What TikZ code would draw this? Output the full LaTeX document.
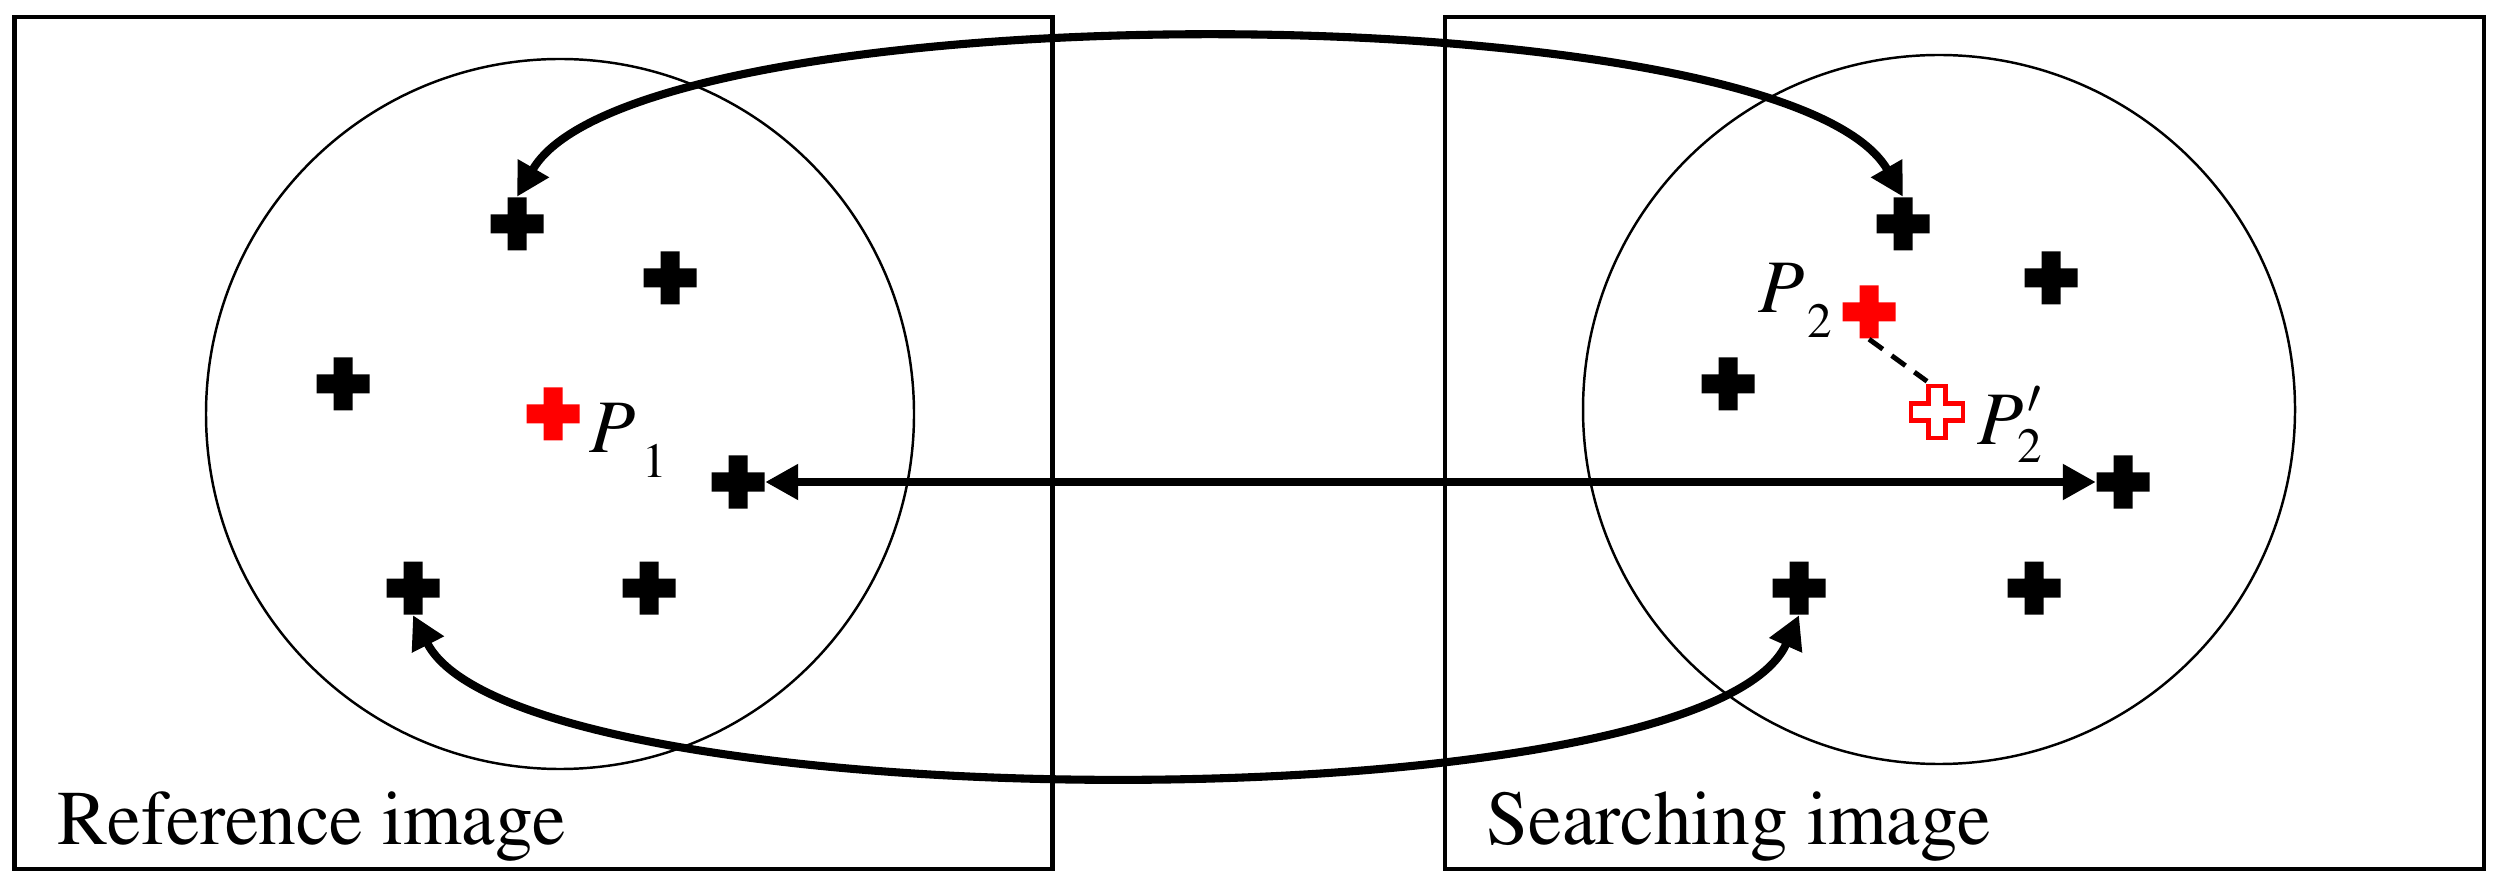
\documentclass[tikz,border=0pt]{standalone}
\usepackage[T1]{fontenc}
\usepackage{mathptmx}
\usepackage{tikz}
\usetikzlibrary{arrows.meta}

\tikzset{
  keypt/.style={minimum size=0.53cm, inner sep=0pt, path picture={
    \fill[#1] (path picture bounding box.center) ++(-0.095,0.265) -- ++(0.19,0) -- ++(0,-0.17) -- ++(0.17,0) -- ++(0,-0.19) -- ++(-0.17,0) -- ++(0,-0.17) -- ++(-0.19,0) -- ++(0,0.17) -- ++(-0.17,0) -- ++(0,0.19) -- ++(0.17,0) -- cycle;}},
  keypt/.default=black,
  movedpt/.style={minimum size=0.6cm, inner sep=0pt, path picture={
    \draw[red, line width=1.4pt, fill=white] (path picture bounding box.center) ++(-0.085,0.26) -- ++(0.17,0) -- ++(0,-0.175) -- ++(0.175,0) -- ++(0,-0.17) -- ++(-0.175,0) -- ++(0,-0.175) -- ++(-0.17,0) -- ++(0,0.175) -- ++(-0.175,0) -- ++(0,0.17) -- ++(0.175,0) -- cycle;}},
  link/.style={line width=2.3pt, {Triangle[length=0.33cm,width=0.34cm]}-{Triangle[length=0.33cm,width=0.34cm]}},
  caption/.style={anchor=base west, inner sep=0pt, font=\fontsize{22}{24}\selectfont},
  ptlabel/.style={anchor=base west, inner sep=0pt, font=\fontsize{21.5}{24}\selectfont},
}

\begin{document}
\begin{tikzpicture}
\useasboundingbox (0,0) rectangle (24.98,8.86);

% the two images
\draw[line width=1.36pt] (0.145,0.17) rectangle (10.525,8.69);
\draw[line width=1.36pt] (14.45,0.17) rectangle (24.84,8.69);
\draw[line width=0.7pt] (5.60,4.72) ellipse (3.54 and 3.55);
\draw[line width=0.7pt] (19.39,4.765) ellipse (3.56 and 3.545);

\node[caption] (reftxt) at (0.57,0.42) {\scalebox{0.975}[1]{Reference image}};
\node[caption] (searchtxt) at (14.86,0.42) {\scalebox{0.975}[1]{Searching image}};

% reference image points
\node[keypt] (ra) at (5.17,6.62) {};
\node[keypt] (rb) at (6.70,6.08) {};
\node[keypt] (rc) at (3.43,5.02) {};
\node[keypt=red] (P1) at (5.53,4.72) {};
\node[keypt] (rd) at (7.38,4.04) {};
\node[keypt] (re) at (4.13,2.98) {};
\node[keypt] (rf) at (6.49,2.98) {};

% searching image points
\node[keypt] (sa) at (19.03,6.62) {};
\node[keypt] (sb) at (20.51,6.08) {};
\node[keypt] (sc) at (17.28,5.02) {};
\node[keypt=red] (P2) at (18.69,5.74) {};
\node[movedpt] (P2m) at (19.37,4.74) {};
\node[keypt] (sd) at (21.23,4.04) {};
\node[keypt] (se) at (17.99,2.98) {};
\node[keypt] (sf) at (20.34,2.98) {};

\node[ptlabel] (P1lbl) at (5.89,4.33) {\textit{P}\kern0.07cm\raisebox{-0.25cm}{\fontsize{14}{14}\selectfont 1}};
\node[ptlabel] (P2lbl) at (17.58,5.73) {\textit{P}\kern0.03cm\raisebox{-0.25cm}{\fontsize{14}{14}\selectfont 2}};
\node[ptlabel] (P2mlbl) at (19.77,4.41) {\textit{P}\kern-0.06cm\rlap{\raisebox{-0.18cm}{\fontsize{14}{14}\selectfont 2}}\kern0.1cm\raisebox{0.31cm}{\fontsize{14}{14}\selectfont$\prime$}};

\draw[line width=1.4pt, dash pattern=on 0.17cm off 0.11cm] (P2.south) -- ([xshift=-0.1cm]P2m.north);

\draw[link] (ra.north) .. controls +(60:2.4) and +(120:2.4) .. (sa.north);
\draw[link] (rd.east) -- (sd.west);
\draw[link] (re.south) .. controls +(-63:2.33) and +(246:2.33) .. (se.south);
\end{tikzpicture}
\end{document}
